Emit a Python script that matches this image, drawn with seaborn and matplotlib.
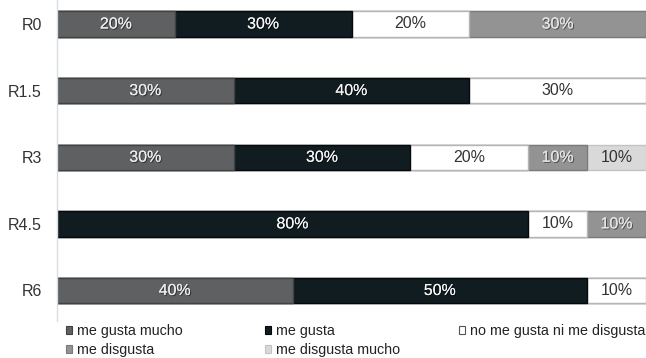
import numpy as np
import pandas as pd
import matplotlib
matplotlib.use("Agg")
import matplotlib.pyplot as plt
import matplotlib.patheffects as pe
from matplotlib.patches import Patch
import seaborn as sns

sns.set_style("white")
plt.rcParams['font.family'] = ['Liberation Sans', 'DejaVu Sans']

# ---- data ----
categories = ["R0", "R1.5", "R3", "R4.5", "R6"]
series_names = ["me gusta mucho", "me gusta", "no me gusta ni me disgusta",
                "me disgusta", "me disgusta mucho"]
me_gusta_mucho = [20, 30, 30, 0, 40]
me_gusta = [30, 40, 30, 80, 50]
neutral = [20, 30, 20, 10, 10]
me_disgusta = [30, 0, 10, 10, 0]
me_disgusta_mucho = [0, 0, 10, 0, 0]
values = [me_gusta_mucho, me_gusta, neutral, me_disgusta, me_disgusta_mucho]

# ---- styles ----
fills = ["#5e6061", "#111c21", "#ffffff", "#939393", "#d9d9d9"]
edges = ["#404243", "#05090b", "#b5b5b5", "#7a7a7a", "#c4c4c4"]
text_colors = ["#ececec", "#f4f4f4", "#333333", "#e4e4e4", "#333333"]
shadow = [True, True, False, True, False]

vals = np.array(values, dtype=float)
cum = np.cumsum(vals, axis=0)

fig = plt.figure(figsize=(6.46, 3.58), dpi=100)
ax = fig.add_axes([57 / 646, 1 - 321 / 358, 589 / 646, 321 / 358])

# draw cumulative bars from the longest (last series) to the shortest
for i in range(len(series_names) - 1, -1, -1):
    df = pd.DataFrame({"cat": categories, "cum": cum[i]})
    sns.barplot(data=df, x="cum", y="cat", order=categories, orient="h",
                color=fills[i], saturation=1, width=0.38,
                edgecolor=edges[i], linewidth=1.0, ax=ax)

# segment labels
for i in range(len(series_names)):
    for j, cat in enumerate(categories):
        v = vals[i, j]
        if v <= 0:
            continue
        center = cum[i, j] - v / 2
        effects = [pe.withSimplePatchShadow(offset=(0.8, -0.8), shadow_rgbFace="#000000", alpha=0.45),
                   pe.Normal()] if shadow[i] else None
        ax.text(center, j, f"{int(round(v))}%", ha="center", va="center",
                fontsize=11.5, color=text_colors[i], path_effects=effects)

ax.set_xlim(0, 100)
ax.set_ylim(4.458, -0.36)
ax.set_xlabel("")
ax.set_ylabel("")
ax.set_xticks([])
ax.tick_params(axis="y", length=0, pad=11, labelsize=11.5, labelcolor="#333333")
for s in ["top", "right", "bottom"]:
    ax.spines[s].set_visible(False)
ax.spines["left"].set_color("#d6dee3")
ax.spines["left"].set_linewidth(1.0)

# legend in three columns of equal width
handles = [Patch(facecolor=fills[i], edgecolor=edges[i] if i != 2 else "#555555",
                 linewidth=0.8, label=series_names[i]) for i in range(5)]
columns = [[handles[0], handles[3]], [handles[1], handles[4]], [handles[2]]]
col_x = [66, 265, 459]
for hs, x in zip(columns, col_x):
    fig.legend(handles=hs, loc="upper left", bbox_to_anchor=(x / 646, 1 - 324 / 358),
               frameon=False, fontsize=10.3, borderpad=0, borderaxespad=0,
               handlelength=0.45, handleheight=0.45, handletextpad=0.35,
               labelspacing=0.36, labelcolor="#222222")

fig.savefig("out.png", dpi=100)
